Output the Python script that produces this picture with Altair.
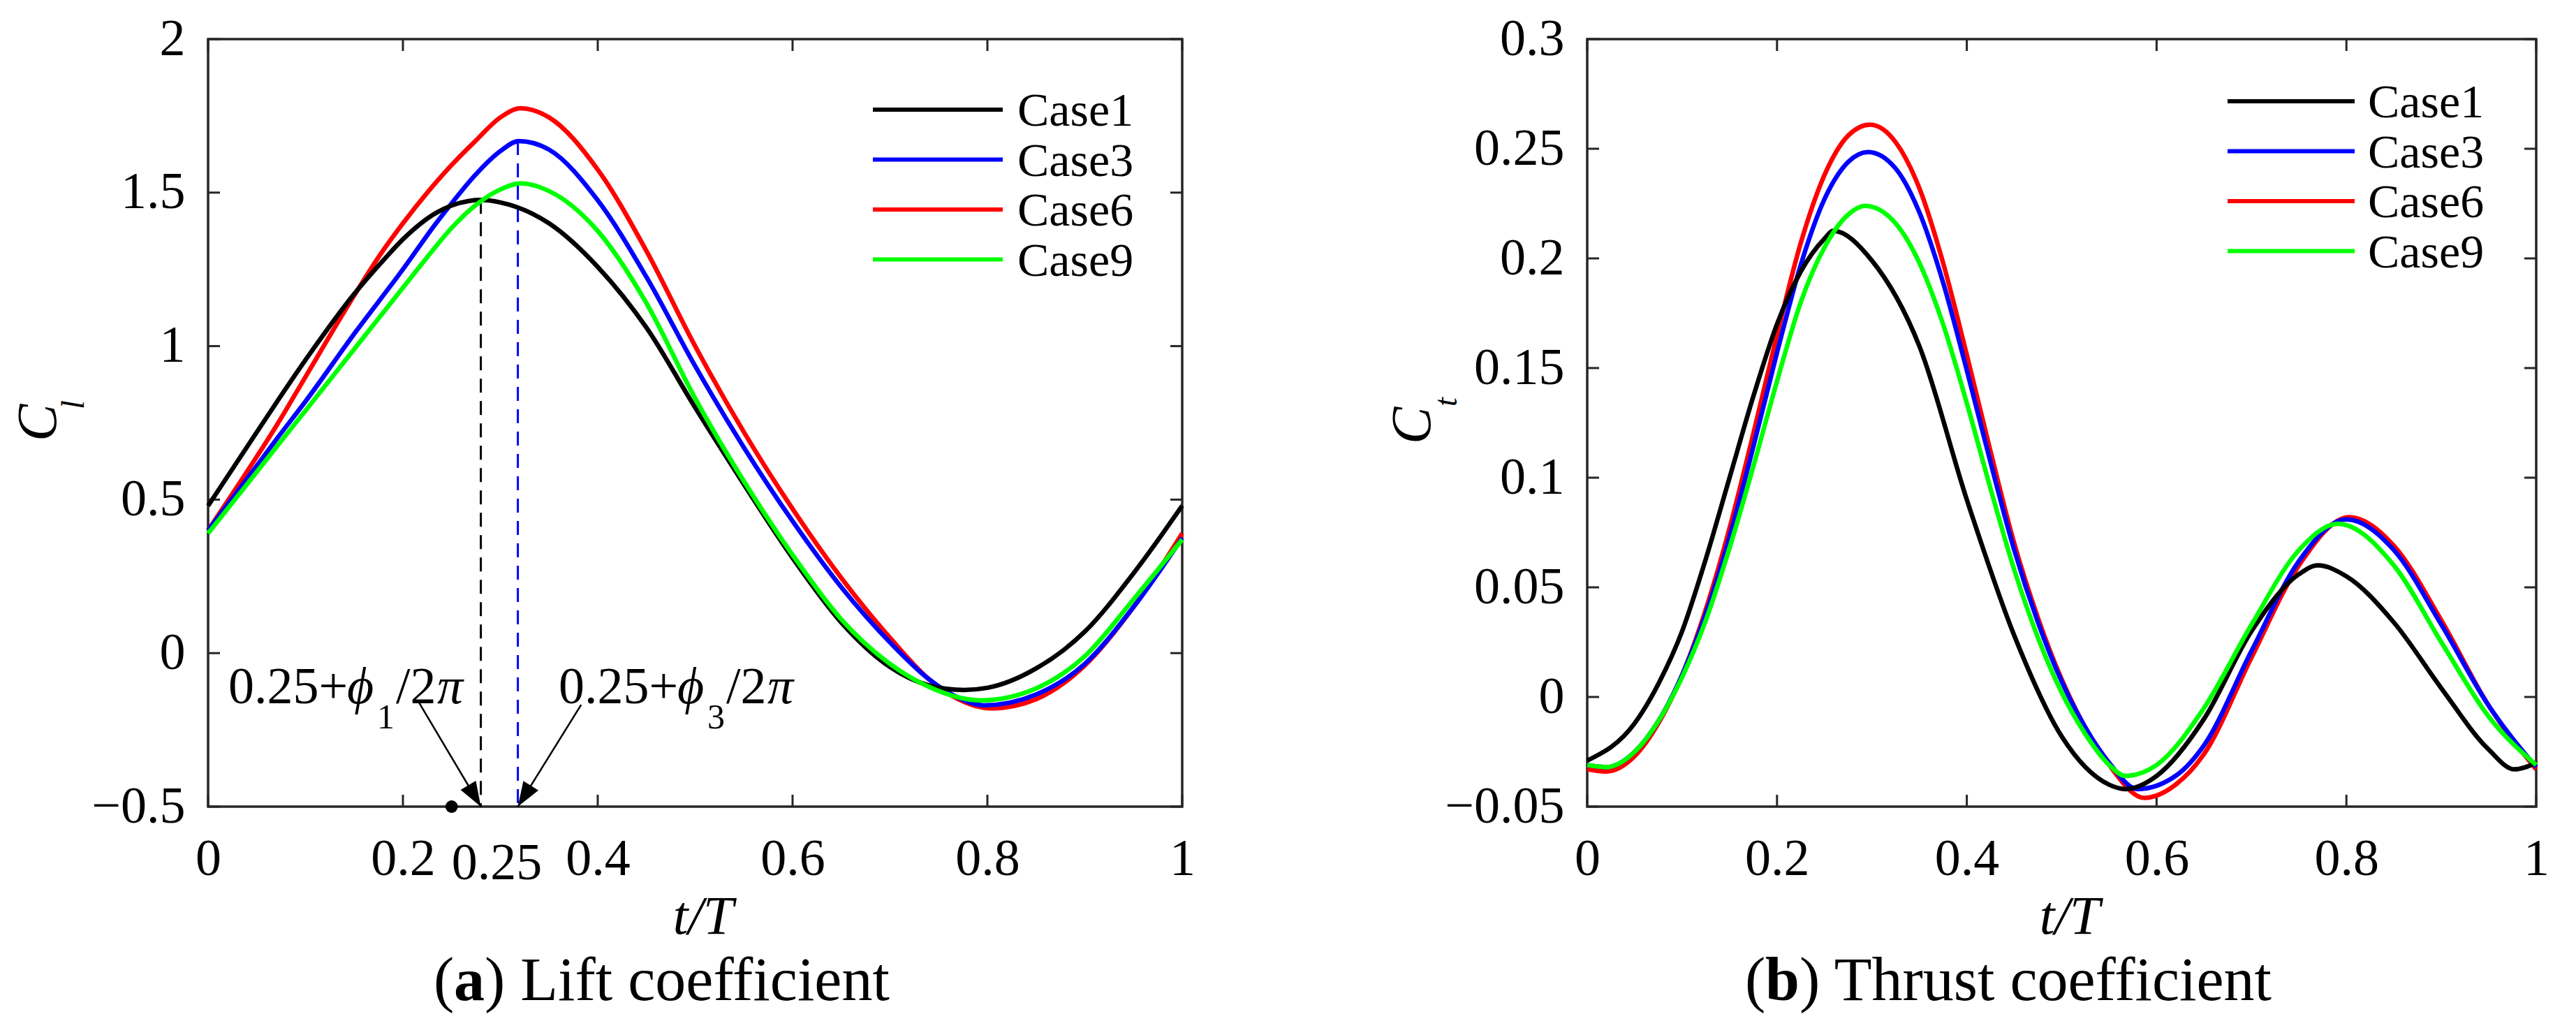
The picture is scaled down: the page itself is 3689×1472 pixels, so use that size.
import math
import altair as alt
import pandas as pd

# ---------------- data ----------------
cases = ["Case1", "Case3", "Case6", "Case9"]
case_colors = {"Case1": "#000000", "Case3": "#0000ff", "Case6": "#ff0000", "Case9": "#00ff00"}
draw_order = ["Case6", "Case3", "Case1", "Case9"]

# (a) lift coefficient
lift_t_case1 = [0, .05, .10, .15, .18, .20, .234, .25, .268, .28, .30, .35, .40, .45, .50,
                .55, .60, .65, .70, .74, .776, .80, .85, .90, .95, 1.0]
lift_c_case1 = [0.48, 0.72, 0.955, 1.17, 1.28, 1.348, 1.434, 1.458, 1.473, 1.476, 1.468, 1.40, 1.258,
                1.06, 0.80, 0.55, 0.31, 0.10, -0.045, -0.105, -0.12, -0.113, -0.05, 0.07, 0.26, 0.48]
lift_t_case3 = [0, .05, .071, .10, .15, .20, .234, .25, .275, .30, .319, .35, .40, .45, .50, .55,
                .60, .65, .70, .74, .77, .797, .85, .90, .95, 1.0]
lift_c_case3 = [0.40, 0.61, 0.70, 0.82, 1.04, 1.25, 1.40, 1.465, 1.56, 1.635, 1.668, 1.64, 1.475,
                1.225, 0.935, 0.67, 0.43, 0.215, 0.035, -0.085, -0.145, -0.17, -0.135, -0.035, 0.15, 0.375]
lift_t_case6 = [0, .05, .071, .10, .15, .175, .20, .225, .25, .275, .30, .321, .35, .40, .45, .50,
                .55, .60, .65, .70, .74, .77, .804, .85, .90, .95, 1.0]
lift_c_case6 = [0.40, 0.64, 0.745, 0.90, 1.165, 1.29, 1.40, 1.50, 1.59, 1.67, 1.745, 1.775, 1.745,
                1.575, 1.31, 1.00, 0.72, 0.47, 0.245, 0.05, -0.085, -0.15, -0.18, -0.15, -0.04, 0.15, 0.39]
lift_t_case9 = [0, .05, .071, .10, .15, .20, .225, .25, .275, .30, .321, .35, .40, .45, .50, .55,
                .60, .65, .70, .74, .793, .85, .90, .95, 1.0]
lift_c_case9 = [0.39, 0.59, 0.675, 0.79, 0.99, 1.19, 1.29, 1.385, 1.46, 1.51, 1.53, 1.505, 1.375,
                1.14, 0.83, 0.56, 0.32, 0.11, -0.035, -0.11, -0.154, -0.115, -0.01, 0.175, 0.37]

# (b) thrust coefficient
thrust_t_case1 = [0, .05, .075, .10, .125, .15, .175, .20, .225, .25, .259, .30, .35, .40, .45, .50,
                  .55, .567, .60, .65, .70, .75, .77, .80, .85, .90, .95, .977, 1.0]
thrust_c_case1 = [-.029, -.012, .006, .030, .063, .100, .137, .170, .194, .209, .2126, .199, .160,
                  .090, .028, -.018, -.040, -.042, -.036, -.010, .030, .056, .060, .055, .034, .004,
                  -.024, -.033, -.030]
thrust_t_case3 = [0, .02, .05, .075, .10, .125, .15, .175, .20, .225, .25, .275, .296, .325, .35,
                  .375, .40, .425, .45, .475, .50, .525, .55, .58, .62, .65, .70, .75, .80, .85,
                  .90, .95, 1.0]
thrust_c_case3 = [-.031, -.032, -.025, -.011, .010, .038, .073, .114, .157, .197, .227, .244, .2485,
                  .241, .221, .189, .149, .107, .067, .034, .007, -.014, -.030, -.042, -.036, -.022,
                  .021, .062, .081, .067, .033, -.004, -.032]
thrust_t_case6 = [0, .02, .05, .075, .10, .125, .15, .175, .20, .225, .25, .275, .298, .325, .35,
                  .375, .40, .425, .45, .475, .50, .525, .55, .587, .62, .65, .70, .75, .803, .85,
                  .90, .95, 1.0]
thrust_c_case6 = [-.033, -.034, -.027, -.012, .010, .040, .077, .120, .165, .207, .238, .256, .261,
                  .253, .232, .198, .156, .112, .070, .036, .008, -.014, -.031, -.046, -.040, -.026,
                  .018, .060, .082, .069, .035, -.004, -.033]
thrust_t_case9 = [0, .02, .05, .075, .10, .125, .15, .175, .20, .225, .25, .275, .293, .325, .35,
                  .375, .40, .425, .45, .475, .50, .525, .55, .567, .60, .65, .70, .75, .791, .85,
                  .90, .95, 1.0]
thrust_c_case9 = [-.031, -.032, -.025, -.011, .009, .035, .068, .105, .144, .180, .205, .220, .224,
                  .216, .198, .170, .134, .095, .058, .027, .002, -.017, -.031, -.036, -.031, -.005,
                  .033, .067, .079, .060, .025, -.009, -.031]

x_ticks = [0, 0.2, 0.4, 0.6, 0.8, 1]
lift_y_ticks = [-0.5, 0, 0.5, 1, 1.5, 2]
thrust_y_ticks = [-0.05, 0, 0.05, 0.1, 0.15, 0.2, 0.25, 0.3]

# phase markers in (a): peak time of Case1 / Case3 and where the arrows start
peak_t = [0.28, 0.318]
peak_c = [1.476, 1.668]
arrow_t0 = [0.2165, 0.383]
arrow_c0 = [-0.161, -0.168]
quarter_t = [0.25]

FONT = "Liberation Serif"
FRAME = "#262626"
TICK = 17


def text(s, x, y, size, **kw):
    return alt.Chart(pd.DataFrame({"s": [s]})).mark_text(
        font=FONT, fontSize=size, color="black", align=kw.pop("align", "left"),
        baseline="alphabetic", **kw
    ).encode(x=alt.value(x), y=alt.value(y), text="s:N")


def panel(series, y_domain, y_ticks, w, h, leg, ytitle, xtitle_x, caption, extra=None):
    xs = alt.Scale(domain=[0, 1], nice=False, zero=False)
    ys = alt.Scale(domain=y_domain, nice=False, zero=False)
    X = alt.X("t:Q", scale=xs, axis=alt.Axis(values=x_ticks, format="~g", title=None,
                                            labelFlush=False, labelOverlap=False, labelPadding=39))
    Y = alt.Y("C:Q", scale=ys, axis=alt.Axis(values=y_ticks, format="~g", title=None,
                                            labelOverlap=False, labelPadding=33))

    layers = []
    # inward ticks on all four sides
    ty = pd.DataFrame({"C": y_ticks})
    tx = pd.DataFrame({"t": x_ticks})
    tick = dict(color=FRAME, strokeWidth=3)
    layers.append(alt.Chart(ty).mark_rule(**tick).encode(y=Y, x=alt.value(0), x2=alt.value(TICK)))
    layers.append(alt.Chart(ty).mark_rule(**tick).encode(y=Y, x=alt.value(w - TICK), x2=alt.value(w)))
    layers.append(alt.Chart(tx).mark_rule(**tick).encode(x=X, y=alt.value(h - TICK), y2=alt.value(h)))
    layers.append(alt.Chart(tx).mark_rule(**tick).encode(x=X, y=alt.value(0), y2=alt.value(TICK)))

    if extra is not None:
        layers += extra(X, Y, w, h, y_domain)

    for name in draw_order:
        t, c = series[name]
        layers.append(
            alt.Chart(pd.DataFrame({"t": t, "C": c}))
            .mark_line(interpolate="monotone", strokeWidth=6.5, color=case_colors[name])
            .encode(x=X, y=Y)
        )

    # legend
    lx0, lx1, ltx, ly0 = leg
    for i, name in enumerate(cases):
        yy = ly0 + 71.5 * i
        layers.append(
            alt.Chart(pd.DataFrame({"s": [name]}))
            .mark_rule(color=case_colors[name], strokeWidth=6)
            .encode(x=alt.value(lx0), x2=alt.value(lx1), y=alt.value(yy))
        )
        layers.append(text(name, ltx, yy + 23, 68))

    # axis titles
    main, sub, tx0, ty0, sx0, sy0 = ytitle
    layers.append(text(main, tx0, ty0, 80, angle=270, fontStyle="italic"))
    layers.append(text(sub, sx0, sy0, 46, angle=270, fontStyle="italic"))
    layers.append(text("t/T", xtitle_x, h + 182, 78, align="center", fontStyle="italic"))

    # caption with bold letter
    letter, rest, cx, lw = caption
    layers.append(text("(", cx, h + 277, 88))
    layers.append(text(letter, cx + 29, h + 277, 88, fontWeight="bold"))
    layers.append(text(rest, cx + 29 + lw, h + 277, 88))

    return alt.layer(*layers).properties(width=w, height=h)


def lift_extras(X, Y, w, h, y_domain):
    out = []
    base = y_domain[0]
    for i, col in enumerate(["black", "blue"]):
        out.append(
            alt.Chart(pd.DataFrame({"t": [peak_t[i]], "C": [peak_c[i]], "C2": [base]}))
            .mark_rule(color=col, strokeWidth=3, strokeDash=[20, 12])
            .encode(x=X, y=Y, y2="C2:Q")
        )
        out.append(
            alt.Chart(pd.DataFrame({"t": [arrow_t0[i], peak_t[i]], "C": [arrow_c0[i], base]}))
            .mark_line(color="black", strokeWidth=2.5)
            .encode(x=X, y=Y)
        )
        dx = (peak_t[i] - arrow_t0[i]) * w
        dy = (arrow_c0[i] - base) / (y_domain[1] - y_domain[0]) * h
        ang = (180 - math.degrees(math.atan2(dx, dy))) % 360
        out.append(
            alt.Chart(pd.DataFrame({"t": [peak_t[i]], "C": [base]}))
            .mark_point(shape="M0,0L-0.36,1L0.36,1Z", filled=True, size=5000, opacity=1,
                        color="black", angle=ang)
            .encode(x=X, y=Y)
        )
    out.append(
        alt.Chart(pd.DataFrame({"t": quarter_t, "C": [base]}))
        .mark_circle(size=320, color="black", opacity=1)
        .encode(x=X, y=Y)
    )
    out.append(
        alt.Chart(pd.DataFrame({"t": quarter_t, "s": ["0.25"]}))
        .mark_text(font=FONT, fontSize=74, color="black", align="left", baseline="alphabetic")
        .encode(x=X, y=alt.value(h + 104), text="s:N")
    )
    # annotation labels 0.25+phi/2pi
    for x0, idx in [(29, "1"), (502, "3")]:
        out.append(text("0.25+", x0, 951, 74))
        out.append(text("\u03d5", x0 + 170, 951, 74, fontStyle="italic"))
        out.append(text(idx, x0 + 213, 987, 50))
        out.append(text("/2", x0 + 240, 951, 74))
        out.append(text("\u03c0", x0 + 299, 951, 74, fontStyle="italic"))
    return out


lift_series = {
    "Case1": (lift_t_case1, lift_c_case1),
    "Case3": (lift_t_case3, lift_c_case3),
    "Case6": (lift_t_case6, lift_c_case6),
    "Case9": (lift_t_case9, lift_c_case9),
}
thrust_series = {
    "Case1": (thrust_t_case1, thrust_c_case1),
    "Case3": (thrust_t_case3, thrust_c_case3),
    "Case6": (thrust_t_case6, thrust_c_case6),
    "Case9": (thrust_t_case9, thrust_c_case9),
}

left = panel(lift_series, [-0.5, 2], lift_y_ticks, 1395, 1099,
             (952, 1138, 1159, 101), ("C", "l", -218, 576, -178, 530), 709,
             ("a", ") Lift coefficient", 323, 44), extra=lift_extras)
right = panel(thrust_series, [-0.05, 0.3], thrust_y_ticks, 1359, 1099,
              (917, 1099, 1118, 89), ("C", "t", -225, 580, -187, 526), 691,
              ("b", ") Thrust coefficient", 226, 49))

chart = alt.hconcat(left, right, spacing=268).properties(
    padding={"left": 6, "top": 9, "right": 5, "bottom": 5}
).configure_view(
    stroke=FRAME, strokeWidth=3.5
).configure_axis(
    labelFont=FONT, labelFontSize=74, labelColor="black",
    ticks=False, tickSize=0, domain=False, grid=False
)

chart.save("out.html", embed_options={"renderer": "svg", "actions": False})
